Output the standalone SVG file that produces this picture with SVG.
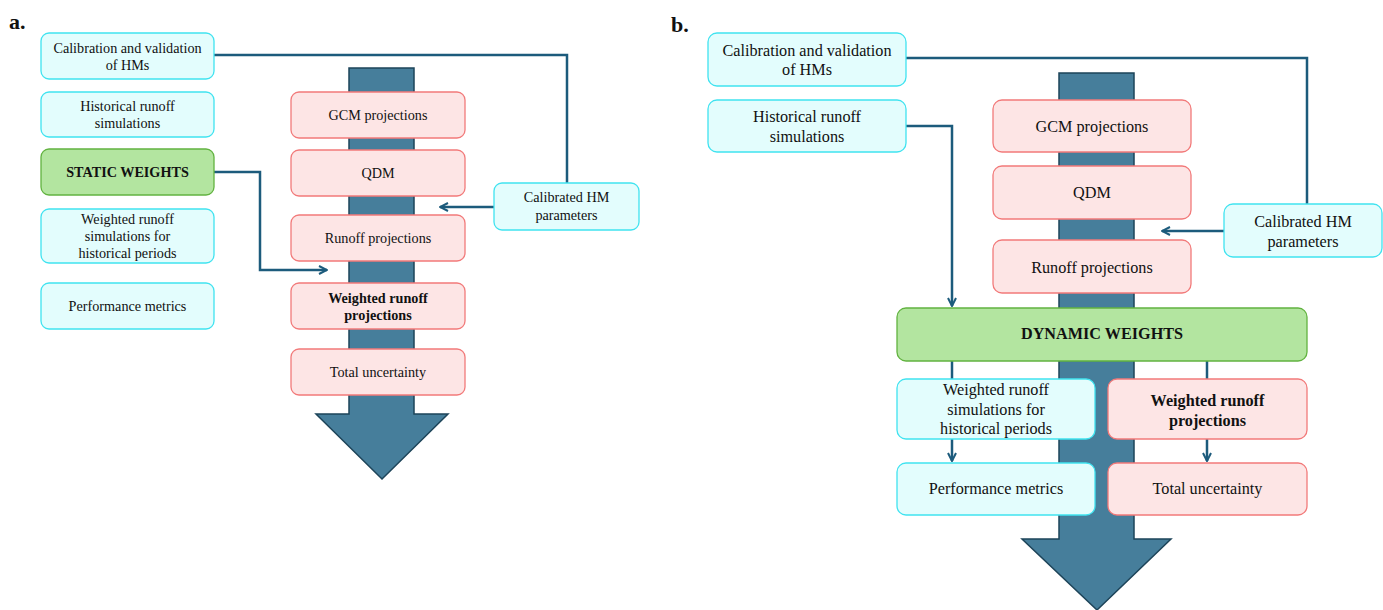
<svg xmlns="http://www.w3.org/2000/svg" width="1383" height="610" viewBox="0 0 1383 610">
<style>
text{font-family:"Liberation Serif","Times New Roman",Times,serif;fill:#111;text-anchor:middle}
.a{font-size:14.2px}
.b{font-size:16.2px}
.bd{font-weight:bold}
.lbl{font-size:22px;font-weight:bold;text-anchor:start}
.cy{fill:#e3fdfd;stroke:#40e3f0;stroke-width:1.3}
.pk{fill:#fde5e5;stroke:#f27a7a;stroke-width:1.3}
.gr{fill:#b3e5a0;stroke:#62b340;stroke-width:1.3}
.big{fill:#467e9b;stroke:#1d4459;stroke-width:1.5}
.cn{fill:none;stroke:#1c5b7c;stroke-width:2.5}
</style>
<defs>
<marker id="ah" viewBox="0 0 10 10" refX="9" refY="5" markerWidth="4" markerHeight="4" markerUnits="strokeWidth" orient="auto">
<path d="M1,1 L9,5 L1,9" fill="none" stroke="#1c5b7c" stroke-width="2"/>
</marker>
</defs>
<rect width="1383" height="610" fill="#fff"/>
<text class="lbl" x="9" y="29">a.</text>
<text class="lbl" x="671" y="32">b.</text>

<g id="bigarrow-a"><path class="big" d="M349,68 H414 V414 H448 L382,479 L316,414 H349 Z"/></g>
<g id="bigarrow-b"><path class="big" d="M1059,73 H1134 V539 H1171 L1097,610 L1022,539 H1059 Z"/></g>

<g id="connectors">
<polyline class="cn" points="214,55 567,55 567,183"/>
<polyline class="cn" points="494,207 440,207" marker-end="url(#ah)"/>
<polyline class="cn" points="214,172 260,172 260,270 327,270" marker-end="url(#ah)"/>
<polyline class="cn" points="906,58 1307,58 1307,204"/>
<polyline class="cn" points="1224,231 1162,231" marker-end="url(#ah)"/>
<polyline class="cn" points="906,126 952,126 952,306" marker-end="url(#ah)"/>
<line class="cn" x1="952" y1="361" x2="952" y2="379"/>
<line class="cn" x1="1207" y1="361" x2="1207" y2="379"/>
<polyline class="cn" points="952,439 952,461" marker-end="url(#ah)"/>
<polyline class="cn" points="1207,439 1207,461" marker-end="url(#ah)"/>
</g>

<g id="a-calib"><rect class="cy" x="41" y="33" width="173" height="46" rx="8"/><text class="a" x="127.5" y="53">Calibration and validation</text><text class="a" x="127.5" y="70">of HMs</text></g>
<g id="a-hist"><rect class="cy" x="41" y="92" width="173" height="45" rx="8"/><text class="a" x="127.5" y="111">Historical runoff</text><text class="a" x="127.5" y="128">simulations</text></g>
<g id="a-static"><rect class="gr" x="41" y="149" width="173" height="46" rx="8"/><text class="a bd" x="127.5" y="177">STATIC WEIGHTS</text></g>
<g id="a-wsim"><rect class="cy" x="41" y="209" width="173" height="54" rx="8"/><text class="a" x="127.5" y="224">Weighted runoff</text><text class="a" x="127.5" y="241">simulations for</text><text class="a" x="127.5" y="258">historical periods</text></g>
<g id="a-perf"><rect class="cy" x="41" y="283" width="173" height="46" rx="8"/><text class="a" x="127.5" y="311">Performance metrics</text></g>
<g id="a-gcm"><rect class="pk" x="291" y="92" width="174" height="46" rx="8"/><text class="a" x="378" y="120">GCM projections</text></g>
<g id="a-qdm"><rect class="pk" x="291" y="150" width="174" height="46" rx="8"/><text class="a" x="378" y="178">QDM</text></g>
<g id="a-runoff"><rect class="pk" x="291" y="215" width="174" height="46" rx="8"/><text class="a" x="378" y="243">Runoff projections</text></g>
<g id="a-wproj"><rect class="pk" x="291" y="283" width="174" height="46" rx="8"/><text class="a bd" x="378" y="303">Weighted runoff</text><text class="a bd" x="378" y="320">projections</text></g>
<g id="a-total"><rect class="pk" x="291" y="349" width="174" height="46" rx="8"/><text class="a" x="378" y="377">Total uncertainty</text></g>
<g id="a-calhm"><rect class="cy" x="494" y="183" width="145" height="47" rx="8"/><text class="a" x="566.5" y="202">Calibrated HM</text><text class="a" x="566.5" y="220">parameters</text></g>

<g id="b-calib"><rect class="cy" x="708" y="33" width="198" height="53" rx="9"/><text class="b" x="807" y="56">Calibration and validation</text><text class="b" x="807" y="75">of HMs</text></g>
<g id="b-hist"><rect class="cy" x="708" y="100" width="198" height="52" rx="9"/><text class="b" x="807" y="122">Historical runoff</text><text class="b" x="807" y="142">simulations</text></g>
<g id="b-gcm"><rect class="pk" x="993" y="100" width="198" height="52" rx="9"/><text class="b" x="1092" y="132">GCM projections</text></g>
<g id="b-qdm"><rect class="pk" x="993" y="166" width="198" height="53" rx="9"/><text class="b" x="1092" y="198">QDM</text></g>
<g id="b-runoff"><rect class="pk" x="993" y="240" width="198" height="53" rx="9"/><text class="b" x="1092" y="273">Runoff projections</text></g>
<g id="b-calhm"><rect class="cy" x="1224" y="204" width="158" height="53" rx="9"/><text class="b" x="1303" y="227">Calibrated HM</text><text class="b" x="1303" y="247">parameters</text></g>
<g id="b-dynamic"><rect class="gr" x="897" y="308" width="410" height="53" rx="9"/><text class="b bd" x="1102" y="339">DYNAMIC WEIGHTS</text></g>
<g id="b-wsim"><rect class="cy" x="897" y="379" width="198" height="60" rx="9"/><text class="b" x="996" y="395">Weighted runoff</text><text class="b" x="996" y="415">simulations for</text><text class="b" x="996" y="434">historical periods</text></g>
<g id="b-wproj"><rect class="pk" x="1108" y="379" width="199" height="60" rx="9"/><text class="b bd" x="1207.5" y="406">Weighted runoff</text><text class="b bd" x="1207.5" y="426">projections</text></g>
<g id="b-perf"><rect class="cy" x="897" y="463" width="198" height="52" rx="9"/><text class="b" x="996" y="494">Performance metrics</text></g>
<g id="b-total"><rect class="pk" x="1108" y="463" width="199" height="52" rx="9"/><text class="b" x="1207.5" y="494">Total uncertainty</text></g>
</svg>
